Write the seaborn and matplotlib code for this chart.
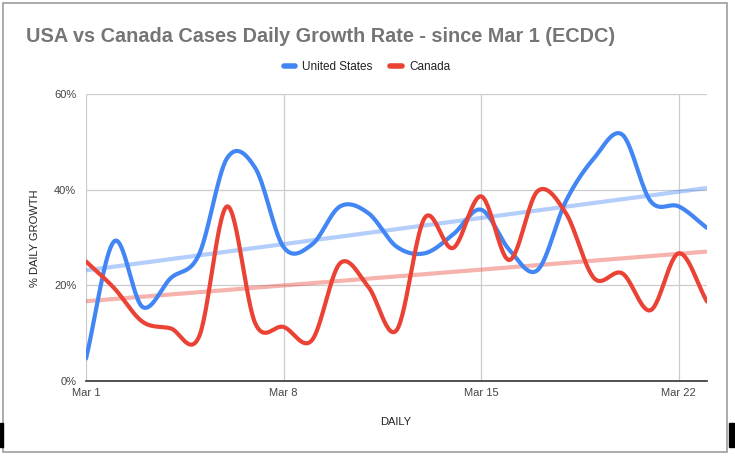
import numpy as np
import pandas as pd
import seaborn as sns
import matplotlib.pyplot as plt
from matplotlib.patches import Rectangle
from matplotlib.lines import Line2D

# days since Mar 1 (1 = Mar 1)
days = list(range(1, 24))
# daily growth rate, percent
us_growth = [4.7, 29.2, 15.5, 21.5, 26.4, 46.6, 44.5, 28.0, 28.5, 36.5, 35.1, 28.1,
             26.7, 30.6, 35.8, 27.4, 23.2, 37.6, 46.6, 51.5, 37.6, 36.5, 32.0]
ca_growth = [25.0, 19.4, 12.4, 11.0, 9.2, 36.5, 12.0, 11.3, 8.5, 24.6, 19.7, 10.6,
             34.1, 27.8, 38.6, 25.3, 39.7, 35.1, 21.5, 22.5, 14.8, 26.7, 16.6]
series_names = ["United States", "Canada"]
tick_days = [1, 8, 15, 22]
tick_labels = ["Mar 1", "Mar 8", "Mar 15", "Mar 22"]
y_ticks = [0, 20, 40, 60]

colors = {"United States": "#4285F4", "Canada": "#EA4335"}


def smooth(x, y, n=30):
    # catmull-rom spline through the points (like the sheets "smooth" option)
    x = np.asarray(x, float)
    y = np.asarray(y, float)
    m = np.empty_like(y)
    m[1:-1] = (y[2:] - y[:-2]) / 2
    m[0] = y[1] - y[0]
    m[-1] = y[-1] - y[-2]
    xs, ys = [], []
    for i in range(len(x) - 1):
        t = np.linspace(0, 1, n, endpoint=False)
        h00 = 2 * t**3 - 3 * t**2 + 1
        h10 = t**3 - 2 * t**2 + t
        h01 = -2 * t**3 + 3 * t**2
        h11 = t**3 - t**2
        xs.append(x[i] + t * (x[i + 1] - x[i]))
        ys.append(h00 * y[i] + h10 * m[i] + h01 * y[i + 1] + h11 * m[i + 1])
    xs.append([x[-1]])
    ys.append([y[-1]])
    return np.concatenate(xs), np.concatenate(ys)


raw = pd.DataFrame({"day": days * 2,
                    "growth": us_growth + ca_growth,
                    "country": [series_names[0]] * len(days) + [series_names[1]] * len(days)})

frames = []
for name, vals in zip(series_names, [us_growth, ca_growth]):
    sx, sy = smooth(days, vals)
    frames.append(pd.DataFrame({"day": sx, "growth": sy, "country": name}))
curves = pd.concat(frames, ignore_index=True)

sns.set_style("white")
plt.rcParams["font.family"] = ["Liberation Sans", "DejaVu Sans"]

fig = plt.figure(figsize=(7.35, 4.57), dpi=100)
ax = fig.add_axes([86 / 735, 1 - 381 / 457, (707 - 86) / 735, (381 - 94) / 457])

# trendlines
for name in series_names:
    sns.regplot(data=raw[raw.country == name], x="day", y="growth", ax=ax,
                scatter=False, ci=None, truncate=True,
                line_kws={"color": colors[name], "alpha": 0.4, "lw": 3, "zorder": 2,
                          "solid_capstyle": "butt"})

sns.lineplot(data=curves, x="day", y="growth", hue="country", palette=colors,
             ax=ax, lw=3, legend=False, zorder=3, sort=False, estimator=None)

ax.set_xlim(1, 23)
ax.set_ylim(0, 60)
ax.set_xticks(tick_days)
ax.set_xticklabels(tick_labels)
ax.set_yticks(y_ticks)
ax.set_yticklabels([f"{v}%" for v in y_ticks])
ax.tick_params(axis="both", length=0, labelsize=8, colors="#444444")
ax.tick_params(axis="x", pad=5)
ax.tick_params(axis="y", pad=7)
ax.grid(True, color="#cccccc", lw=0.9)
ax.set_axisbelow(True)
for s in ["top", "right", "left"]:
    ax.spines[s].set_visible(False)
ax.spines["bottom"].set_color("#333333")
ax.spines["bottom"].set_linewidth(1.2)
ax.spines["bottom"].set_zorder(4)
ax.set_xlabel("")
ax.set_ylabel("")

fig.text(26 / 735, 1 - 37 / 457, "USA vs Canada Cases Daily Growth Rate - since Mar 1 (ECDC)",
         fontsize=14.3, fontweight="bold", color="#757575", va="center", ha="left")
fig.text(35 / 735, 1 - 238 / 457, "% DAILY GROWTH", rotation=90, fontsize=8,
         color="#222222", va="center", ha="center")
fig.text(396 / 735, 1 - 422 / 457, "DAILY", fontsize=8, color="#222222",
         va="center", ha="center")

handles = [Line2D([0], [0], color=colors[n], lw=4) for n in series_names]
fig.legend(handles, series_names, loc="center", bbox_to_anchor=(367 / 735, 1 - 67 / 457),
           ncol=2, frameon=False, fontsize=8.5, handlelength=1.0, handletextpad=0.6,
           columnspacing=1.5, labelcolor="#222222")

# chart border and sheet edges
fig.patches.append(Rectangle((3 / 735, 5 / 457), 724 / 735, 449 / 457, transform=fig.transFigure,
                             fill=False, ec="#9e9e9e", lw=1.2))
fig.patches.append(Rectangle((0, 1 - 447 / 457), 3 / 735, 24 / 457, transform=fig.transFigure,
                             color="black"))
fig.patches.append(Rectangle((729 / 735, 1 - 447 / 457), 6 / 735, 24 / 457, transform=fig.transFigure,
                             color="black"))

fig.savefig("out.png", dpi=100)
